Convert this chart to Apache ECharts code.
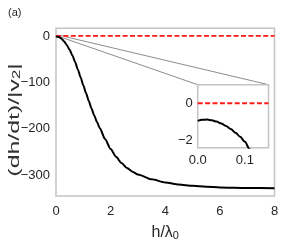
<!DOCTYPE html>
<html>
<head>
<meta charset="utf-8">
<script src="https://cdn.jsdelivr.net/npm/echarts@6/dist/echarts.min.js"></script>
<style>html,body{margin:0;padding:0;background:#fff}#c{width:284px;height:246px}</style>
</head>
<body>
<div id="c"></div>
<script>
// ---- data ----
const mainH = [0, 0.1, 0.2, 0.3, 0.4, 0.5, 0.6, 0.7, 0.8, 0.9, 1.0, 1.1, 1.2, 1.3, 1.4, 1.5, 1.6, 1.8, 2.0, 2.2, 2.4, 2.6, 2.8, 3.0, 3.5, 4.0, 4.5, 5.0, 5.5, 6.0, 7.0, 8.0];
const mainY = [-0.96, -2.1, -6, -12, -20, -30, -42, -56, -72, -89, -106, -123, -140, -156, -171, -185, -198, -222, -243, -260, -273.5, -284, -292, -298, -308.5, -315, -319.5, -322.5, -324.5, -325.8, -327, -327.5];
const insetH = [0, 0.01, 0.02, 0.03, 0.04, 0.05, 0.06, 0.07, 0.08, 0.09, 0.1, 0.11, 0.12];
const insetY = [-0.96, -0.9, -0.89, -0.93, -1.0, -1.1, -1.24, -1.4, -1.6, -1.83, -2.1, -2.5, -2.9];
const refValue = 0;
const mainXTicks = [0, 2, 4, 6, 8];
const mainYTicks = [0, -100, -200, -300];
const insetXTicks = [0, 0.1];
const insetYTicks = [0, -2];
const xName = 'h/λ{s|0}';
const yName = '(dh/dt)/|v{s|2}|';
const panelLabel = '(a)';

const FONT = 'Liberation Sans, Arial, sans-serif';
const TXT = '#262626';
const FRAME = '#c4c4c4';
const minus = v => String(v).replace('-', '\u2212');

const chart = echarts.init(document.getElementById('c'), null, {renderer: 'canvas'});
const mainRange = {xmin: 0, xmax: 8, ymin: -344.5, ymax: 16.4};
const insetRange = {xmin: 0, xmax: 0.15, ymin: -2.42, ymax: 1.01};
const subRich = {s: {fontSize: 11, fontFamily: FONT, color: TXT, verticalAlign: 'bottom', padding: [7, 0, 0, 0], lineHeight: 11}};

const option = {
  animation: false,
  backgroundColor: '#fff',
  textStyle: {fontFamily: FONT},
  title: {text: panelLabel, left: 3, top: 2, textStyle: {fontSize: 11, fontWeight: 'normal', color: TXT, fontFamily: FONT}},
  grid: [
    {left: 56, top: 28.3, right: 9.5, bottom: 41.5, show: true, borderColor: FRAME, borderWidth: 1.5, backgroundColor: '#fff', containLabel: false},
    {left: 197.7, top: 84.7, width: 70.8, height: 63, show: true, borderColor: FRAME, borderWidth: 1.5, backgroundColor: '#fff', containLabel: false, z: 5}
  ],
  xAxis: [
    {gridIndex: 0, type: 'value', min: mainRange.xmin, max: mainRange.xmax, interval: 2,
     axisLine: {show: false}, axisTick: {show: false}, splitLine: {show: false},
     axisLabel: {customValues: mainXTicks, color: TXT, fontSize: 13, margin: 9, fontFamily: FONT, formatter: v => minus(v)},
     name: xName, nameLocation: 'middle', nameGap: 18, nameTextStyle: {fontSize: 16, color: TXT, fontFamily: FONT, rich: subRich}},
    {gridIndex: 1, type: 'value', min: insetRange.xmin, max: insetRange.xmax, interval: 0.1,
     axisLine: {show: false}, axisTick: {show: false}, splitLine: {show: false},
     axisLabel: {customValues: insetXTicks, color: TXT, fontSize: 13, margin: 6, fontFamily: FONT, formatter: v => v.toFixed(1)}, z: 5}
  ],
  yAxis: [
    {gridIndex: 0, type: 'value', min: mainRange.ymin, max: mainRange.ymax,
     axisLine: {show: false}, axisTick: {show: false}, splitLine: {show: false},
     axisLabel: {customValues: mainYTicks, color: TXT, fontSize: 13, margin: 6, fontFamily: FONT, formatter: v => minus(v)}},
    {gridIndex: 1, type: 'value', min: insetRange.ymin, max: insetRange.ymax,
     axisLine: {show: false}, axisTick: {show: false}, splitLine: {show: false},
     axisLabel: {customValues: insetYTicks, color: TXT, fontSize: 13, margin: 5, fontFamily: FONT, formatter: v => minus(v)}, z: 5}
  ],
  series: [
    {type: 'line', xAxisIndex: 0, yAxisIndex: 0, data: [[mainRange.xmin, refValue], [mainRange.xmax, refValue]],
     showSymbol: false, lineStyle: {color: '#ff1a1a', width: 1.8, type: [5, 2.4]}, z: 3},
    {type: 'line', xAxisIndex: 0, yAxisIndex: 0, data: mainH.map((h, i) => [h, mainY[i]]),
     showSymbol: false, smooth: 0.25, smoothMonotone: 'x', lineStyle: {color: '#000', width: 2}, z: 4},
    {type: 'line', xAxisIndex: 1, yAxisIndex: 1, data: [[insetRange.xmin, refValue], [insetRange.xmax, refValue]],
     showSymbol: false, lineStyle: {color: '#ff1a1a', width: 1.8, type: [5, 2.4]}, z: 6},
    {type: 'line', xAxisIndex: 1, yAxisIndex: 1, data: insetH.map((h, i) => [h, insetY[i]]),
     showSymbol: false, smooth: 0.3, smoothMonotone: 'x', lineStyle: {color: '#000', width: 2}, z: 6}
  ]
};
chart.setOption(option);

// connector lines from the zoomed region in the main axes to the inset's upper corners
const p = (g, pt) => chart.convertToPixel({gridIndex: g}, pt);
const rUL = p(0, [insetRange.xmin, insetRange.ymax]);
const rUR = p(0, [insetRange.xmax, insetRange.ymax]);
const rLR = p(0, [insetRange.xmax, insetRange.ymin]);
const iUL = p(1, [insetRange.xmin, insetRange.ymax]);
const iUR = p(1, [insetRange.xmax, insetRange.ymax]);
const lineStyle = {stroke: '#8c8c8c', lineWidth: 1};

// y-axis title: rotated text, stretched along its length like the reference
const Y_FS = 15;
const ctx = document.createElement('canvas').getContext('2d');
ctx.font = Y_FS + 'px ' + FONT;
const natural = ctx.measureText('(dh/dt)/|v|').width + 6;
const yTitleLength = 114;
chart.setOption({
  graphic: [
    {type: 'line', shape: {x1: rUL[0], y1: rUL[1], x2: iUL[0], y2: iUL[1]}, style: lineStyle, z: 1},
    {type: 'line', shape: {x1: rUR[0], y1: rUR[1], x2: iUR[0], y2: iUR[1]}, style: lineStyle, z: 1},
    {type: 'rect', shape: {x: rUL[0], y: rUL[1], width: rUR[0] - rUL[0], height: rLR[1] - rUR[1]}, style: {stroke: '#8c8c8c', fill: 'none', lineWidth: 1}, z: 1},
    {type: 'text', x: 14.5, y: 120, rotation: Math.PI / 2, scaleX: yTitleLength / natural, scaleY: 1,
     style: {text: yName, fontSize: Y_FS, fontFamily: FONT, fill: '#333', align: 'center', verticalAlign: 'middle',
             rich: {s: {fontSize: 10, fontFamily: FONT, fill: '#333', verticalAlign: 'bottom', padding: [6, 0, 0, 0], lineHeight: 10}}}, z: 10}
  ]
});
</script>
</body>
</html>
